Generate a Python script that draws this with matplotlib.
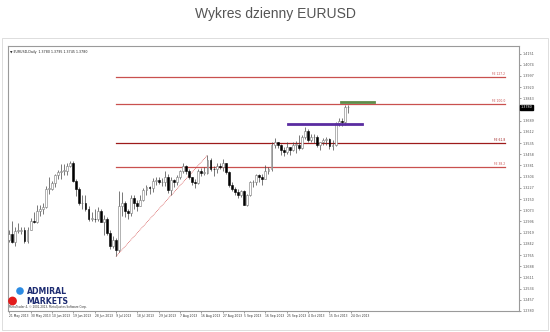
import matplotlib
matplotlib.use("Agg")
import matplotlib.pyplot as plt
from matplotlib.patches import Rectangle, Circle

# ---------------- data ----------------
dates = ["21 May", "22 May", "23 May", "24 May", "27 May", "28 May", "29 May", "30 May", "31 May",
         "3 Jun", "4 Jun", "5 Jun", "6 Jun", "7 Jun", "10 Jun", "11 Jun", "12 Jun", "13 Jun", "14 Jun",
         "17 Jun", "18 Jun", "19 Jun", "20 Jun", "21 Jun", "24 Jun", "25 Jun", "26 Jun", "27 Jun", "28 Jun",
         "1 Jul", "2 Jul", "3 Jul", "4 Jul", "5 Jul", "8 Jul", "9 Jul", "10 Jul", "11 Jul", "12 Jul",
         "15 Jul", "16 Jul", "17 Jul", "18 Jul", "19 Jul", "22 Jul", "23 Jul", "24 Jul", "25 Jul", "26 Jul",
         "29 Jul", "30 Jul", "31 Jul", "1 Aug", "2 Aug", "5 Aug", "6 Aug", "7 Aug", "8 Aug", "9 Aug",
         "12 Aug", "13 Aug", "14 Aug", "15 Aug", "16 Aug", "19 Aug", "20 Aug", "21 Aug", "22 Aug", "23 Aug",
         "26 Aug", "27 Aug", "28 Aug", "29 Aug", "30 Aug", "2 Sep", "3 Sep", "4 Sep", "5 Sep", "6 Sep",
         "9 Sep", "10 Sep", "11 Sep", "12 Sep", "13 Sep", "16 Sep", "17 Sep", "18 Sep", "19 Sep", "20 Sep",
         "23 Sep", "24 Sep", "25 Sep", "26 Sep", "27 Sep", "30 Sep", "1 Oct", "2 Oct", "3 Oct", "4 Oct",
         "7 Oct", "8 Oct", "9 Oct", "10 Oct", "11 Oct", "14 Oct", "15 Oct", "16 Oct", "17 Oct", "18 Oct",
         "21 Oct", "22 Oct", "23 Oct"]

opens = [1.2870, 1.2910, 1.2855, 1.2930, 1.2930, 1.2935, 1.2860, 1.2940, 1.3000,
         1.2995, 1.3070, 1.3080, 1.3095, 1.3220, 1.3220, 1.3260, 1.3315, 1.3335, 1.3345,
         1.3345, 1.3380, 1.3395, 1.3275, 1.3220, 1.3120, 1.3120, 1.3080, 1.3015, 1.3015,
         1.3010, 1.3065, 1.2995, 1.3015, 1.2920, 1.2830, 1.2865, 1.2800, 1.3100, 1.3125,
         1.3070, 1.3055, 1.3155, 1.3120, 1.3105, 1.3145, 1.3215, 1.3235, 1.3225, 1.3275,
         1.3280, 1.3265, 1.3270, 1.3300, 1.3215, 1.3280, 1.3265, 1.3300, 1.3345, 1.3375,
         1.3345, 1.3300, 1.3265, 1.3260, 1.3345, 1.3330, 1.3330, 1.3420, 1.3360, 1.3355,
         1.3380, 1.3370, 1.3395, 1.3335, 1.3245, 1.3220, 1.3200, 1.3180, 1.3205, 1.3110,
         1.3180, 1.3265, 1.3270, 1.3315, 1.3300, 1.3290, 1.3345, 1.3360, 1.3520, 1.3540,
         1.3525, 1.3490, 1.3475, 1.3505, 1.3485, 1.3525, 1.3525, 1.3500, 1.3580, 1.3620,
         1.3555, 1.3575, 1.3575, 1.3520, 1.3540, 1.3555, 1.3565, 1.3515, 1.3525, 1.3670,
         1.3685, 1.3680, 1.3780]
highs = [1.2935, 1.3000, 1.2955, 1.2985, 1.2960, 1.2960, 1.2960, 1.3020, 1.3060,
         1.3110, 1.3110, 1.3125, 1.3240, 1.3305, 1.3275, 1.3325, 1.3350, 1.3390, 1.3390,
         1.3395, 1.3415, 1.3415, 1.3285, 1.3235, 1.3175, 1.3180, 1.3105, 1.3060, 1.3080,
         1.3095, 1.3080, 1.3040, 1.3030, 1.2935, 1.2895, 1.2885, 1.3205, 1.3200, 1.3135,
         1.3085, 1.3175, 1.3175, 1.3145, 1.3175, 1.3225, 1.3245, 1.3240, 1.3295, 1.3300,
         1.3300, 1.3295, 1.3345, 1.3320, 1.3300, 1.3290, 1.3315, 1.3350, 1.3400, 1.3385,
         1.3355, 1.3305, 1.3285, 1.3355, 1.3365, 1.3370, 1.3452, 1.3430, 1.3375, 1.3395,
         1.3395, 1.3425, 1.3400, 1.3340, 1.3265, 1.3230, 1.3220, 1.3215, 1.3210, 1.3185,
         1.3275, 1.3280, 1.3320, 1.3325, 1.3320, 1.3385, 1.3370, 1.3540, 1.3568, 1.3545,
         1.3530, 1.3505, 1.3540, 1.3510, 1.3545, 1.3550, 1.3590, 1.3590, 1.3645, 1.3630,
         1.3595, 1.3600, 1.3590, 1.3545, 1.3570, 1.3575, 1.3570, 1.3555, 1.3680, 1.3705,
         1.3705, 1.3795, 1.3795]
lows = [1.2855, 1.2845, 1.2830, 1.2915, 1.2910, 1.2845, 1.2850, 1.2935, 1.2985,
        1.2985, 1.3035, 1.3050, 1.3090, 1.3185, 1.3210, 1.3230, 1.3290, 1.3290, 1.3315,
        1.3315, 1.3370, 1.3270, 1.3170, 1.3110, 1.3080, 1.3065, 1.3000, 1.3000, 1.2995,
        1.3000, 1.2990, 1.2900, 1.2900, 1.2805, 1.2810, 1.2755, 1.2785, 1.3035, 1.3030,
        1.3010, 1.3035, 1.3085, 1.3065, 1.3100, 1.3140, 1.3175, 1.3185, 1.3200, 1.3245,
        1.3255, 1.3240, 1.3240, 1.3190, 1.3180, 1.3235, 1.3250, 1.3285, 1.3330, 1.3325,
        1.3285, 1.3245, 1.3225, 1.3255, 1.3310, 1.3315, 1.3325, 1.3345, 1.3310, 1.3330,
        1.3355, 1.3340, 1.3320, 1.3235, 1.3205, 1.3175, 1.3160, 1.3165, 1.3110, 1.3105,
        1.3170, 1.3230, 1.3250, 1.3265, 1.3250, 1.3285, 1.3320, 1.3340, 1.3500, 1.3500,
        1.3450, 1.3445, 1.3460, 1.3455, 1.3480, 1.3470, 1.3490, 1.3495, 1.3560, 1.3545,
        1.3540, 1.3535, 1.3505, 1.3490, 1.3525, 1.3520, 1.3495, 1.3485, 1.3515, 1.3650,
        1.3655, 1.3660, 1.3745]
closes = [1.2910, 1.2855, 1.2930, 1.2930, 1.2935, 1.2860, 1.2940, 1.3000, 1.2995,
          1.3070, 1.3080, 1.3095, 1.3220, 1.3220, 1.3260, 1.3315, 1.3335, 1.3345, 1.3345,
          1.3380, 1.3395, 1.3275, 1.3220, 1.3120, 1.3120, 1.3080, 1.3015, 1.3015, 1.3010,
          1.3065, 1.2995, 1.3015, 1.2920, 1.2830, 1.2865, 1.2800, 1.3100, 1.3125, 1.3070,
          1.3055, 1.3155, 1.3120, 1.3105, 1.3145, 1.3215, 1.3235, 1.3225, 1.3275, 1.3280,
          1.3265, 1.3270, 1.3300, 1.3215, 1.3280, 1.3265, 1.3300, 1.3345, 1.3375, 1.3345,
          1.3300, 1.3265, 1.3260, 1.3345, 1.3330, 1.3330, 1.3420, 1.3360, 1.3355, 1.3380,
          1.3370, 1.3395, 1.3335, 1.3245, 1.3220, 1.3200, 1.3180, 1.3205, 1.3110, 1.3180,
          1.3265, 1.3270, 1.3315, 1.3300, 1.3290, 1.3345, 1.3360, 1.3520, 1.3540, 1.3525,
          1.3490, 1.3475, 1.3505, 1.3485, 1.3525, 1.3525, 1.3500, 1.3580, 1.3620, 1.3555,
          1.3575, 1.3575, 1.3520, 1.3540, 1.3555, 1.3565, 1.3515, 1.3525, 1.3670, 1.3685,
          1.3680, 1.3780, 1.3780]

# Fibonacci expansion points (A = 9 Jul low, B = 20 Aug high, C = 6 Sep low)
fib_a, fib_b, fib_c = 1.2755, 1.3452, 1.3105
fib_levels = [38.2, 61.8, 100.0, 127.2]
fib_labels = ["FE 38.2", "FE 61.8", "FE 100.0", "FE 127.2"]
purple_level = 1.3663
green_level = 1.3815

price_ticks = [1.2380 + 0.0077 * k for k in range(24)]
date_labels = ["21 May 2013", "30 May 2013", "10 Jun 2013", "19 Jun 2013", "28 Jun 2013",
               "9 Jul 2013", "18 Jul 2013", "29 Jul 2013", "7 Aug 2013", "16 Aug 2013",
               "27 Aug 2013", "5 Sep 2013", "16 Sep 2013", "25 Sep 2013", "4 Oct 2013",
               "15 Oct 2013", "24 Oct 2013"]

# ---------------- figure ----------------
W, H = 550, 332
fig = plt.figure(figsize=(W / 100, H / 100), dpi=100)
fig.patch.set_facecolor("white")

def fx(px):
    return px / W

def fy(py):
    return 1 - py / H

L, R, T, B = 8, 519, 46, 311
ax = fig.add_axes([fx(L), fy(B), fx(R) - fx(L), fy(T) - fy(B)])
ymin, ymax = 1.2393, 1.4203
xmin = -0.4
xmax = xmin + (R - L) / 3.05
ax.set_xlim(xmin, xmax)
ax.set_ylim(ymin, ymax)

# outer frame of screenshot
fig.add_artist(Rectangle((fx(2), fy(330)), fx(546), fy(38) - fy(330), transform=fig.transFigure,
                         fill=False, edgecolor="#d8d8d8", linewidth=0.6))

n = len(opens)
idx = list(range(n))
i_a = dates.index("9 Jul")
i_b = dates.index("20 Aug")

def px2i(px):
    return xmin + (px - L) / 3.05

# fib lines
fib_end = px2i(505)
for lev, lab in zip(fib_levels, fib_labels):
    val = fib_c + lev / 100 * (fib_b - fib_a)
    col = "#9e1b1b" if lev == 61.8 else "#c9504f"
    ax.plot([i_a, fib_end], [val, val], color=col, linewidth=0.9, zorder=2)
    ax.text(fib_end, val + 0.0008, lab, fontsize=2.2, color=col, ha="right", va="bottom")

# dashed AB line
ax.plot([i_a, i_b], [fib_a, fib_b], color="#d04040", linewidth=0.5, linestyle=(0, (1.2, 1.2)), zorder=2)

# purple and green levels
ax.plot([px2i(288), px2i(362)], [purple_level, purple_level], color="#5a2ca0", linewidth=2.0, zorder=4)
ax.plot([px2i(341), px2i(374)], [green_level, green_level], color="#5e8c4a", linewidth=2.0, zorder=4)

# candles
bw = 0.62
for i in idx:
    o, h, l, c = opens[i], highs[i], lows[i], closes[i]
    ax.vlines(i, l, h, color="#444444", linewidth=0.5, zorder=3)
    lo, hi = min(o, c), max(o, c)
    if hi - lo < 0.0004:
        hi = lo + 0.0004
    if c >= o:
        ax.add_patch(Rectangle((i - bw / 2, lo), bw, hi - lo, facecolor="white", edgecolor="#777777",
                               linewidth=0.4, zorder=3.5))
    else:
        ax.add_patch(Rectangle((i - bw / 2, lo), bw, hi - lo, facecolor="black", edgecolor="black",
                               linewidth=0.4, zorder=3.5))

# axes styling
for s in ["left", "bottom", "top", "right"]:
    ax.spines[s].set_color("#9a9a9a")
    ax.spines[s].set_linewidth(0.8)
ax.yaxis.tick_right()
ax.set_yticks(price_ticks)
ax.set_yticklabels([f"{v:.4f}" for v in price_ticks], fontsize=2.4, color="#333333")
ax.tick_params(axis="y", length=1.5, width=0.4, pad=1.2, colors="#555555")
ax.set_xticks(list(range(0, 113, 7)))
ax.set_xticklabels([])
ax.tick_params(axis="x", length=1.5, width=0.4, colors="#555555")
for k, lab in enumerate(date_labels):
    ax.text(k * 7, -0.012, lab, transform=ax.get_xaxis_transform(), fontsize=2.2,
            color="#333333", ha="left", va="top")

# current price box
last = closes[-1]
ax.text(1.003, last, f"{last:.4f}", transform=ax.get_yaxis_transform(), fontsize=2.4, color="white",
        ha="left", va="center", bbox=dict(boxstyle="square,pad=0.15", facecolor="black", edgecolor="black"),
        zorder=10)

# header text
ax.text(0.004, 0.985, "\u25bc EURUSD,Daily  1.3780 1.3795 1.3745 1.3780", transform=ax.transAxes,
        fontsize=2.3, color="#222222", ha="left", va="top")

# copyright
ax.text(0.002, 0.006, "MetaTrader 4, \u00a9 2001-2013, MetaQuotes Software Corp.", transform=ax.transAxes,
        fontsize=2.0, color="#333333", ha="left", va="bottom")

# logo (circles in inch coordinates so they stay round)
fig.add_artist(Circle((20 / 100, (H - 291) / 100), 0.038, transform=fig.dpi_scale_trans,
                      facecolor="#2b8be3", edgecolor="none"))
fig.add_artist(Circle((12.5 / 100, (H - 301) / 100), 0.044, transform=fig.dpi_scale_trans,
                      facecolor="#e21b1b", edgecolor="none"))
fig.text(fx(26.5), fy(292), "ADMIRAL", fontsize=5.6, fontweight="bold", color="#1d2c72",
         ha="left", va="center", family="DejaVu Sans")
fig.text(fx(26.5), fy(301), "MARKETS", fontsize=5.6, fontweight="bold", color="#1d2c72",
         ha="left", va="center", family="DejaVu Sans")

# title
fig.text(0.5, fy(14), "Wykres dzienny EURUSD", fontsize=10, color="#555555", ha="center", va="center",
         family="Liberation Sans")

fig.savefig("out.png", dpi=100)
